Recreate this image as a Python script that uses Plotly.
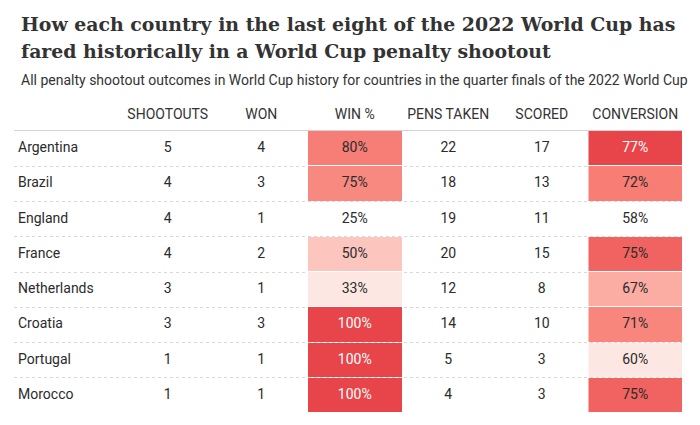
import plotly.graph_objects as go

# ---- data ----
countries = ["Argentina", "Brazil", "England", "France", "Netherlands", "Croatia", "Portugal", "Morocco"]
headers = ["SHOOTOUTS", "WON", "WIN %", "PENS TAKEN", "SCORED", "CONVERSION"]
shootouts = [5, 4, 4, 4, 3, 3, 1, 1]
won = [4, 3, 1, 2, 1, 3, 1, 1]
win_pct = [80, 75, 25, 50, 33, 100, 100, 100]
pens_taken = [22, 18, 19, 20, 12, 14, 5, 4]
scored = [17, 13, 11, 15, 8, 10, 3, 3]
conversion = [77, 72, 58, 75, 67, 71, 60, 75]

# ---- layout constants ----
W, H = 700, 425
ML, MR, MT, MB = 14, 18, 131, 12
PW = W - ML - MR
PH = H - MT - MB
COUNTRY_W = 107
COL_W = (PW - COUNTRY_W) / 6
centers = [COUNTRY_W + COL_W * (i + 0.5) for i in range(6)]
rows = list(range(len(countries)))


def py(pixel_y):
    """pixel (from top) -> paper y"""
    return (H - MB - pixel_y) / PH


def px(pixel_x):
    return (pixel_x - ML) / PW


FONT = "Roboto"
DARK = "#2b2b2b"
colorscale = [
    [0.0, "#ffffff"],
    [0.1, "#fde8e4"],
    [0.35, "#fcc2ba"],
    [0.7, "#f8837a"],
    [0.9, "#f0625f"],
    [1.0, "#e8454a"],
]

fig = go.Figure()


def heat(col_idx, values):
    lo, hi = min(values), max(values)
    fig.add_trace(go.Heatmap(
        z=[[v] for v in values], x0=centers[col_idx], dx=COL_W, y0=0, dy=1,
        zmin=lo, zmax=hi, colorscale=colorscale, showscale=False,
        ygap=1, hoverinfo="skip"))
    return [("#ffffff" if (v - lo) / (hi - lo) >= 0.95 else DARK) for v in values]


win_colors = heat(2, win_pct)
conv_colors = heat(5, conversion)

# country names
fig.add_trace(go.Scatter(
    x=[4] * len(countries), y=rows, text=countries, mode="text",
    textposition="middle right", textfont=dict(family=FONT, size=14, color=DARK),
    hoverinfo="skip"))

cols = [
    ([str(v) for v in shootouts], DARK),
    ([str(v) for v in won], DARK),
    ([f"{v}%" for v in win_pct], win_colors),
    ([str(v) for v in pens_taken], DARK),
    ([str(v) for v in scored], DARK),
    ([f"{v}%" for v in conversion], conv_colors),
]
for i, (txt, colr) in enumerate(cols):
    fig.add_trace(go.Scatter(
        x=[centers[i]] * len(txt), y=rows, text=txt, mode="text",
        textposition="middle center",
        textfont=dict(family=FONT, size=14, color=colr),
        hoverinfo="skip"))

title_lines = [
    "How each country in the last eight of the 2022 World Cup has",
    "fared historically in a World Cup penalty shootout",
]
annotations = []
for k, line in enumerate(title_lines):
    annotations.append(dict(
        text=f"<b>{line}</b>", xref="paper", yref="paper", x=px(19), y=py(24 + 27 * k),
        xanchor="left", yanchor="middle", showarrow=False,
        font=dict(family="DejaVu Serif", size=18.9, color="#333333")))
annotations.append(dict(
    text="All penalty shootout outcomes in World Cup history for countries in the quarter finals of the 2022 World Cup",
    xref="paper", yref="paper", x=px(19), y=py(80), xanchor="left", yanchor="middle",
    showarrow=False, font=dict(family=FONT, size=14, color="#333333")))

fig.update_layout(
    width=W, height=H, margin=dict(l=ML, r=MR, t=MT, b=MB),
    paper_bgcolor="white", plot_bgcolor="white", showlegend=False,
    annotations=annotations,
    xaxis=dict(range=[0, PW], side="top", tickvals=centers, ticktext=headers,
               showgrid=False, zeroline=False, showline=True, linecolor="#d4d4d4", linewidth=1,
               ticks="", ticklabelstandoff=5, fixedrange=True,
               tickfont=dict(family=FONT, size=14, color="#333333")),
    yaxis=dict(range=[len(countries) - 0.5, -0.5], tickvals=[r + 0.5 for r in rows[:-1]],
               showticklabels=False, showgrid=True, gridcolor="#d8d8d8", griddash="3px,3px",
               zeroline=False, showline=False, ticks="", fixedrange=True),
)

fig.write_html("out.html", config={"displayModeBar": False},
               post_script="document.body.style.margin='0';")
